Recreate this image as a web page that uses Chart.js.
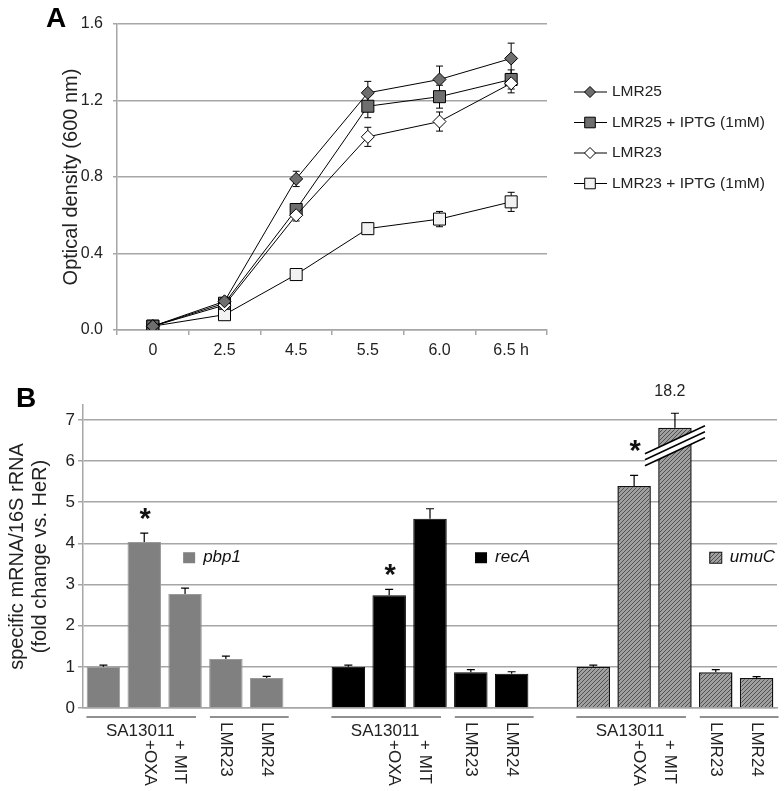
<!DOCTYPE html>
<html>
<head>
<meta charset="utf-8">
<script src="https://cdn.jsdelivr.net/npm/chart.js@4.4.1/dist/chart.umd.min.js"></script>
<style>
  body { margin: 0; background: #fff; width: 784px; height: 791px; position: relative; overflow: hidden;
         font-family: "Liberation Sans", Arial, sans-serif; }
  #boxA { position: absolute; left: 0; top: 0; width: 784px; height: 360px; }
  #boxB { position: absolute; left: 0; top: 360px; width: 784px; height: 431px; }
  .panel { position: absolute; font-weight: bold; font-size: 28px; line-height: 30px; color: #000; }
</style>
</head>
<body>
<div id="boxA"><canvas id="chartA"></canvas></div>
<div id="boxB"><canvas id="chartB"></canvas></div>
<div class="panel" style="left:46px;top:3px">A</div>
<div class="panel" style="left:16px;top:383px">B</div>
<script>
// ---- panel A data (OD600 growth curves)
var timeLabels = ['0', '2.5', '4.5', '5.5', '6.0', '6.5 h'];
var lmr25      = [0.02, 0.15, 0.79, 1.24, 1.31, 1.42];
var lmr25Err   = [0.00, 0.02, 0.04, 0.06, 0.07, 0.08];
var lmr25Iptg  = [0.02, 0.14, 0.63, 1.17, 1.22, 1.31];
var lmr25IptgErr = [0.00, 0.02, 0.03, 0.06, 0.06, 0.05];
var lmr23      = [0.02, 0.13, 0.60, 1.01, 1.09, 1.29];
var lmr23Err   = [0.00, 0.02, 0.03, 0.05, 0.05, 0.05];
var lmr23Iptg  = [0.02, 0.08, 0.29, 0.53, 0.58, 0.67];
var lmr23IptgErr = [0.00, 0.01, 0.01, 0.03, 0.04, 0.05];
var odTicks = [0, 0.4, 0.8, 1.2, 1.6];

// ---- panel B data (fold change)
var sampleLabels = ['', '+OXA', '+ MIT', 'LMR23', 'LMR24'];
var strainLabel = 'SA13011';
var pbp1    = [1.00, 4.03, 2.77, 1.19, 0.73];
var pbp1Err = [0.04, 0.22, 0.14, 0.07, 0.04];
var recA    = [1.00, 2.74, 4.60, 0.87, 0.83];
var recAErr = [0.04, 0.14, 0.24, 0.06, 0.05];
var umuC    = [1.00, 5.39, 6.81, 0.87, 0.73];   // MIT bar drawn cut at the axis break
var umuCErr = [0.04, 0.26, 0.35, 0.06, 0.03];
var umuCMitValue = '18.2';
var significant = [1];   // +OXA bar in each group
var foldTicks = [0, 1, 2, 3, 4, 5, 6, 7];

var font = "'Liberation Sans', Arial, sans-serif";
Chart.defaults.font.family = font;
Chart.defaults.color = '#222';
var gridGrey = '#a6a6a6';

// ---------------- chart A
var errA = [lmr25Err, lmr25IptgErr, lmr23Err, lmr23IptgErr];

var errorBarsA = {
  id: 'errorBarsA',
  beforeDatasetsDraw: function(chart) {
    var ctx = chart.ctx, y = chart.scales.y;
    ctx.save();
    ctx.strokeStyle = '#000';
    ctx.lineWidth = 1;
    chart.data.datasets.forEach(function(ds, di) {
      var meta = chart.getDatasetMeta(di);
      meta.data.forEach(function(pt, i) {
        var e = errA[di][i];
        if (!e) return;
        var top = y.getPixelForValue(ds.data[i] + e);
        var bot = y.getPixelForValue(ds.data[i] - e);
        ctx.beginPath();
        ctx.moveTo(pt.x, top); ctx.lineTo(pt.x, bot);
        ctx.moveTo(pt.x - 3.5, top); ctx.lineTo(pt.x + 3.5, top);
        ctx.moveTo(pt.x - 3.5, bot); ctx.lineTo(pt.x + 3.5, bot);
        ctx.stroke();
      });
    });
    ctx.restore();
  }
};

var legendA = {
  id: 'legendA',
  afterDraw: function(chart) {
    var ctx = chart.ctx, area = chart.chartArea;
    var x0 = area.right + 27, y0 = area.top + 68;
    ctx.save();
    chart.data.datasets.forEach(function(ds, i) {
      var y = y0 + i * 30.5;
      ctx.strokeStyle = '#000';
      ctx.lineWidth = 1;
      ctx.beginPath(); ctx.moveTo(x0, y); ctx.lineTo(x0 + 33, y); ctx.stroke();
      ctx.fillStyle = ds.pointBackgroundColor;
      ctx.strokeStyle = '#000';
      Chart.helpers.drawPoint(ctx, {
        pointStyle: ds.pointStyle, rotation: 0, borderWidth: 1,
        radius: ds.pointStyle === 'rect' ? 7.5 : 5.5
      }, x0 + 16, y);
      ctx.fillStyle = '#222';
      ctx.font = '15.5px ' + font;
      ctx.textBaseline = 'middle';
      ctx.fillText(ds.label, x0 + 38, y);
    });
    ctx.restore();
  }
};

function lineSet(label, data, style, fill, order) {
  return {
    label: label, data: data, order: order,
    borderColor: '#000', borderWidth: 1, tension: 0, fill: false,
    pointStyle: style, pointRadius: style === 'rect' ? 8.5 : 6.5,
    pointBackgroundColor: fill, pointBorderColor: '#000', pointBorderWidth: 1
  };
}

new Chart(document.getElementById('chartA'), {
  type: 'line',
  data: {
    labels: timeLabels,
    datasets: [
      lineSet('LMR25', lmr25, 'rectRot', '#6e6e6e', 0),
      lineSet('LMR25 + IPTG (1mM)', lmr25Iptg, 'rect', '#6e6e6e', 2),
      lineSet('LMR23', lmr23, 'rectRot', '#ffffff', 1),
      lineSet('LMR23 + IPTG (1mM)', lmr23Iptg, 'rect', '#f2f2f2', 3)
    ]
  },
  options: {
    responsive: true, maintainAspectRatio: false, animation: false, events: [],
    layout: { padding: { top: 24, right: 237, left: 0, bottom: 0 } },
    plugins: { legend: { display: false }, tooltip: { enabled: false } },
    scales: {
      x: {
        offset: true,
        grid: { offset: true, drawOnChartArea: false, tickLength: 5, color: gridGrey, lineWidth: 1.5 },
        border: { color: gridGrey, width: 1.5 },
        ticks: { font: { size: 16 }, padding: 6, color: '#222' },
        afterFit: function(a) { a.height = 30; }
      },
      y: {
        min: 0, max: 1.6,
        afterBuildTicks: function(a) { a.ticks = odTicks.map(function(v) { return { value: v }; }); },
        ticks: { font: { size: 16 }, padding: 10, color: '#222',
                 callback: function(v) { return v.toFixed(1); } },
        grid: { color: gridGrey, lineWidth: 1.5, tickLength: 4 },
        border: { color: gridGrey, width: 1.5 },
        title: { display: true, text: 'Optical density (600 nm)', font: { size: 20 }, color: '#222',
                 padding: { top: 59, bottom: 0 } },
        afterFit: function(a) { a.width = 117; }
      }
    }
  },
  plugins: [errorBarsA, legendA]
});

// ---------------- chart B
var groupSize = sampleLabels.length;
var groupStarts = [0, groupSize + 1, 2 * (groupSize + 1)];
var slotCount = 3 * groupSize + 2;
var slotLabels = [];
for (var s = 0; s < slotCount; s++) slotLabels.push('');

function spread(values, start) {
  var out = [];
  for (var s = 0; s < slotCount; s++) out.push(null);
  values.forEach(function(v, i) { out[start + i] = v; });
  return out;
}

function hatch() {
  var c = document.createElement('canvas');
  c.width = 4; c.height = 4;
  var g = c.getContext('2d');
  g.fillStyle = '#a0a0a0';
  g.fillRect(0, 0, 4, 4);
  g.strokeStyle = '#505050';
  g.lineWidth = 1;
  g.beginPath();
  g.moveTo(0, 4); g.lineTo(4, 0);
  g.moveTo(-1, 1); g.lineTo(1, -1);
  g.moveTo(3, 5); g.lineTo(5, 3);
  g.stroke();
  return g.createPattern(c, 'repeat');
}

var genes = [
  { name: 'pbp1', values: pbp1, err: pbp1Err, fill: '#808080', border: '#9a9a9a', legendAt: 2.1, starLift: 13 },
  { name: 'recA', values: recA, err: recAErr, fill: '#000000', border: '#000000', legendAt: 9.25, starLift: 13 },
  { name: 'umuC', values: umuC, err: umuCErr, fill: hatch(), border: '#111111', legendAt: 15, starLift: 23 }
];

var decorB = {
  id: 'decorB',
  afterDatasetsDraw: function(chart) {
    var ctx = chart.ctx, x = chart.scales.x, y = chart.scales.y;
    ctx.save();
    // error bars (upper only)
    ctx.strokeStyle = '#000';
    ctx.lineWidth = 1.2;
    genes.forEach(function(g, gi) {
      g.values.forEach(function(v, i) {
        var px = x.getPixelForValue(groupStarts[gi] + i);
        var top = y.getPixelForValue(v + g.err[i]);
        var base = y.getPixelForValue(v);
        ctx.beginPath();
        ctx.moveTo(px, base); ctx.lineTo(px, top);
        ctx.moveTo(px - 4, top); ctx.lineTo(px + 4, top);
        ctx.stroke();
      });
    });
    // significance asterisks
    ctx.fillStyle = '#111';
    ctx.textAlign = 'center';
    ctx.textBaseline = 'middle';
    genes.forEach(function(g, gi) {
      significant.forEach(function(i) {
        var px = x.getPixelForValue(groupStarts[gi] + i);
        var top = y.getPixelForValue(g.values[i] + g.err[i]);
        ctx.font = 'bold 29px ' + font;
        ctx.fillText('*', px + 1, top - g.starLift);
      });
    });
    // axis break on the umuC + MIT bar, with its true value
    var mitSlot = groupStarts[2] + 2;
    var bx = x.getPixelForValue(mitSlot);
    var by = y.getPixelForValue(6.37);
    var dx = 30, dy = -14;
    ctx.fillStyle = '#fff';
    ctx.beginPath();
    ctx.moveTo(bx - dx, by - dy - 6); ctx.lineTo(bx + dx, by + dy - 6);
    ctx.lineTo(bx + dx, by + dy + 6); ctx.lineTo(bx - dx, by - dy + 6);
    ctx.closePath(); ctx.fill();
    ctx.lineWidth = 1.5;
    [-6, 0, 6].forEach(function(o) {
      ctx.beginPath();
      ctx.moveTo(bx - dx, by - dy + o); ctx.lineTo(bx + dx, by + dy + o);
      ctx.stroke();
    });
    ctx.fillStyle = '#222';
    ctx.font = '16px ' + font;
    var mitTop = y.getPixelForValue(umuC[2] + umuCErr[2]);
    ctx.fillText(umuCMitValue, bx - 5, mitTop - 22);
    // in-plot gene legends
    genes.forEach(function(g) {
      var lx = x.getPixelForValue(g.legendAt);
      var ly = y.getPixelForValue(3.65);
      ctx.fillStyle = g.fill;
      ctx.fillRect(lx - 6, ly - 5.5, 12, 11);
      if (g.name === 'umuC') {
        ctx.strokeStyle = '#111'; ctx.lineWidth = 1;
        ctx.strokeRect(lx - 6, ly - 5.5, 12, 11);
      }
      ctx.fillStyle = '#111';
      ctx.textAlign = 'left';
      ctx.font = 'italic 17px ' + font;
      ctx.fillText(g.name, lx + 14, ly);
    });
    // sample labels below axis
    var base0 = chart.chartArea.bottom;
    var subShift = [0, 5, -5, 0, 0];
    groupStarts.forEach(function(st) {
      ctx.strokeStyle = '#222';
      ctx.lineWidth = 1.2;
      ctx.beginPath();
      ctx.moveTo(x.getPixelForValue(st) - 17, base0 + 9);
      ctx.lineTo(x.getPixelForValue(st + 2) + 11, base0 + 9);
      ctx.moveTo(x.getPixelForValue(st + 3) - 16, base0 + 9);
      ctx.lineTo(x.getPixelForValue(st + 4) + 22, base0 + 9);
      ctx.stroke();
      ctx.fillStyle = '#222';
      ctx.font = '17px ' + font;
      ctx.textAlign = 'center';
      ctx.fillText(strainLabel, x.getPixelForValue(st + 1) - 4, base0 + 23);
      sampleLabels.forEach(function(lab, i) {
        if (!lab) return;
        ctx.save();
        ctx.translate(x.getPixelForValue(st + i) + subShift[i], base0 + (i < 3 ? 32 : 14));
        ctx.rotate(Math.PI / 2);
        ctx.textAlign = 'left';
        ctx.textBaseline = 'middle';
        ctx.fillText(lab, 0, 0);
        ctx.restore();
      });
    });
    ctx.restore();
  }
};

new Chart(document.getElementById('chartB'), {
  type: 'bar',
  data: {
    labels: slotLabels,
    datasets: genes.map(function(g, gi) {
      return {
        label: g.name, data: spread(g.values, groupStarts[gi]),
        backgroundColor: g.fill, borderColor: g.border, borderWidth: gi === 2 ? 1.5 : 1,
        grouped: false, barPercentage: 0.82, categoryPercentage: 1
      };
    })
  },
  options: {
    responsive: true, maintainAspectRatio: false, animation: false, events: [],
    layout: { padding: { top: 45, right: 7, left: 0, bottom: 0 } },
    plugins: { legend: { display: false }, tooltip: { enabled: false } },
    scales: {
      x: {
        grid: { display: false },
        border: { color: gridGrey, width: 1.5 },
        ticks: { display: false },
        afterFit: function(a) { a.height = 83; }
      },
      y: {
        min: 0, max: 7.36,
        afterBuildTicks: function(a) { a.ticks = foldTicks.map(function(v) { return { value: v }; }); },
        ticks: { font: { size: 17 }, padding: 3, color: '#222' },
        grid: { color: gridGrey, lineWidth: 1.5, tickLength: 5 },
        border: { color: gridGrey, width: 1.5 },
        title: { display: true, text: ['specific mRNA/16S rRNA', '(fold change vs. HeR)'],
                 font: { size: 20, lineHeight: 1.15 }, color: '#222', padding: { top: 6, bottom: 0 } },
        afterFit: function(a) { a.width = 83; }
      }
    }
  },
  plugins: [decorB]
});
</script>
</body>
</html>
